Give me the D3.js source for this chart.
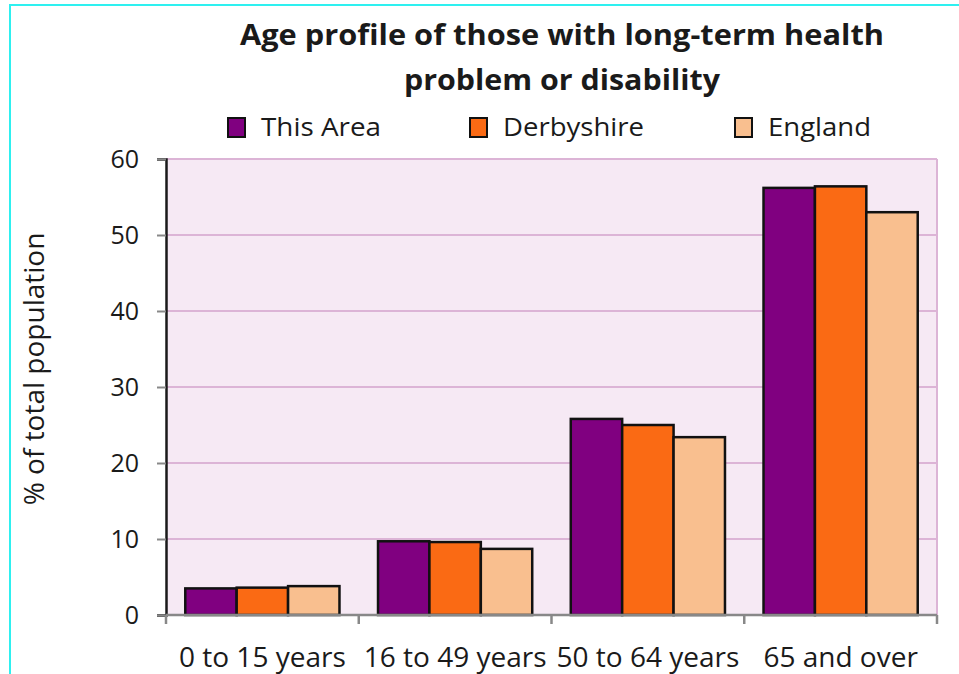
<!DOCTYPE html>
<html>
<head>
<meta charset="utf-8">
<script src="https://cdn.jsdelivr.net/npm/d3@7"></script>
<style>
  body { margin: 0; background: #fff; }
  svg text { fill: #1a1a1a; }
</style>
</head>
<body>
<div id="chart"></div>
<script>

// Chart data
const categories = ["0 to 15 years", "16 to 49 years", "50 to 64 years", "65 and over"];
const seriesNames = ["This Area", "Derbyshire", "England"];
const thisArea   = [3.5, 9.7, 25.8, 56.2];
const derbyshire = [3.6, 9.6, 25.0, 56.4];
const england    = [3.8, 8.7, 23.4, 53.0];
const yTicks = [0, 10, 20, 30, 40, 50, 60];
const colors = ["#800080", "#fa6a14", "#f9bf8f"];

const seriesValues = [thisArea, derbyshire, england];

let width = 959, height = 674;
let margin = {top: 159, right: 22, bottom: 59, left: 166};
let xwidth = width - margin.left - margin.right;
let yheight = height - margin.top - margin.bottom;

let svg = d3.select("#chart").append("svg")
    .attr("width", width)
    .attr("height", height);

// Outer cyan frame
svg.append("rect")
    .attr("x", 10).attr("y", 5)
    .attr("width", width + 20).attr("height", height + 20)
    .attr("fill", "none")
    .attr("stroke", "#2ef0f0")
    .attr("stroke-width", 2);

let g = svg.append("g")
    .attr("transform", "translate(" + margin.left + "," + margin.top + ")");

let x0 = d3.scaleBand()
    .domain(categories)
    .range([0, xwidth])
    .paddingInner(0.2)
    .paddingOuter(0.1);

let x1 = d3.scaleBand()
    .domain(seriesNames)
    .range([0, x0.bandwidth()]);

let y = d3.scaleLinear()
    .domain([0, 60])
    .range([yheight, 0]);

// Plot background
g.append("rect")
    .attr("width", xwidth)
    .attr("height", yheight)
    .attr("fill", "#f6e9f4");

// Gridlines
g.append("g")
  .selectAll("line")
  .data(yTicks.filter(d => d > 0))
  .enter().append("line")
    .attr("x1", 0).attr("x2", xwidth)
    .attr("y1", d => y(d)).attr("y2", d => y(d))
    .attr("stroke", "#dcb4d6")
    .attr("stroke-width", 2);

// right border of plot area
g.append("line")
    .attr("x1", xwidth).attr("x2", xwidth)
    .attr("y1", 0).attr("y2", yheight)
    .attr("stroke", "#dcb4d6")
    .attr("stroke-width", 2);

// Bars
let datapoints = [];
categories.forEach((c, i) => {
    seriesNames.forEach((s, j) => {
        datapoints.push({category: c, series: s, value: seriesValues[j][i], idx: j});
    });
});

g.append("g")
  .selectAll("rect")
  .data(datapoints)
  .enter().append("rect")
    .attr("x", d => x0(d.category) + x1(d.series))
    .attr("y", d => y(d.value))
    .attr("width", x1.bandwidth())
    .attr("height", d => yheight - y(d.value))
    .attr("fill", d => colors[d.idx])
    .attr("stroke", "#111")
    .attr("stroke-width", 2.5);

// Y axis
let yAxis = g.append("g")
    .call(d3.axisLeft(y).tickValues(yTicks).tickSize(9).tickPadding(18));
yAxis.select(".domain").attr("stroke", "#1a1a1a").attr("stroke-width", 2.5);
yAxis.selectAll(".tick line").attr("stroke", "#888").attr("stroke-width", 2);
yAxis.selectAll(".tick text")
    .attr("font-family", "'Open Sans', sans-serif")
    .attr("font-size", 25)
    .style("fill", "#1a1a1a");

// X axis
let xTickPos = d3.range(categories.length + 1).map(i => i * xwidth / categories.length);
g.append("line")
    .attr("x1", 0).attr("x2", xwidth)
    .attr("y1", yheight).attr("y2", yheight)
    .attr("stroke", "#888")
    .attr("stroke-width", 2.5);
g.append("g")
  .selectAll("line")
  .data(xTickPos)
  .enter().append("line")
    .attr("x1", d => d).attr("x2", d => d)
    .attr("y1", yheight).attr("y2", yheight + 9)
    .attr("stroke", "#888")
    .attr("stroke-width", 2.5);
g.append("g")
  .selectAll("text")
  .data(categories)
  .enter().append("text")
    .attr("x", d => x0(d) + x0.bandwidth() / 2)
    .attr("y", yheight + 52)
    .attr("text-anchor", "middle")
    .attr("font-family", "'Open Sans', sans-serif")
    .attr("font-size", 28)
    .text(d => d);

// Y axis title
svg.append("text")
    .attr("transform", "translate(44,369) rotate(-90)")
    .attr("text-anchor", "middle")
    .attr("font-family", "'Open Sans', sans-serif")
    .attr("font-size", 28)
    .text("% of total population");

// Title
let title = svg.append("g")
    .attr("font-family", "'Liberation Sans Narrow', 'Open Sans', sans-serif")
    .attr("font-weight", "bold")
    .attr("font-size", 29)
    .attr("text-anchor", "middle");
title.append("text").attr("x", 562).attr("y", 45)
    .attr("textLength", 644).attr("lengthAdjust", "spacingAndGlyphs")
    .text("Age profile of those with long-term health");
title.append("text").attr("x", 562).attr("y", 90)
    .attr("textLength", 316).attr("lengthAdjust", "spacingAndGlyphs")
    .text("problem or disability");

// Legend
let legendX = [228, 470, 735];
let legendW = [120, 141, 103];
let legend = svg.append("g")
  .selectAll("g")
  .data(seriesNames)
  .enter().append("g")
    .attr("transform", (d, i) => "translate(" + legendX[i] + ",118)");
legend.append("rect")
    .attr("width", 17).attr("height", 19)
    .attr("fill", (d, i) => colors[i])
    .attr("stroke", "#111")
    .attr("stroke-width", 2);
legend.append("text")
    .attr("x", 33).attr("y", 18)
    .attr("font-family", "'Liberation Sans Narrow', 'Open Sans', sans-serif")
    .attr("font-size", 26)
    .attr("textLength", (d, i) => legendW[i])
    .attr("lengthAdjust", "spacingAndGlyphs")
    .text(d => d);

</script>
</body>
</html>
